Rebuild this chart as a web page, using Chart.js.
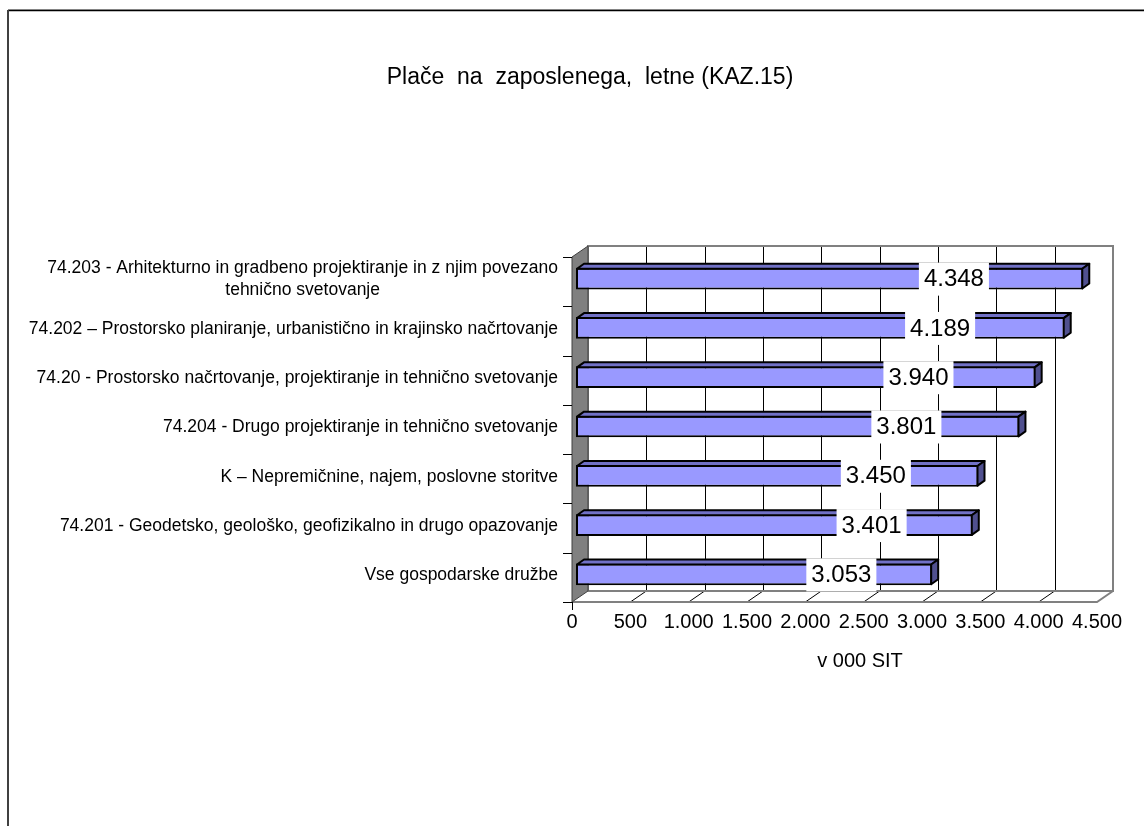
<!DOCTYPE html>
<html>
<head>
<meta charset="utf-8">
<script src="https://cdn.jsdelivr.net/npm/chart.js@4/dist/chart.umd.min.js"></script>
<style>
    html, body { margin: 0; padding: 0; background: #fff; }
    #wrap { width: 1144px; height: 826px; }
</style>
</head>
<body>
<div id="wrap"><canvas id="chart" width="1144" height="826"></canvas></div>
<script>
var chartTitle = "Plače  na  zaposlenega,  letne (KAZ.15)";
var axisTitle = "v 000 SIT";
var categories = [
    ["74.203 - Arhitekturno in gradbeno projektiranje in z njim povezano", "tehnično svetovanje"],
    "74.202 – Prostorsko planiranje, urbanistično in krajinsko načrtovanje",
    "74.20 - Prostorsko načrtovanje, projektiranje in tehnično svetovanje",
    "74.204 - Drugo projektiranje in tehnično svetovanje",
    "K – Nepremičnine, najem, poslovne storitve",
    "74.201 - Geodetsko, geološko, geofizikalno in drugo opazovanje",
    "Vse gospodarske družbe"
];
var values = [4348, 4189, 3940, 3801, 3450, 3401, 3053];
var tickValues = [0, 500, 1000, 1500, 2000, 2500, 3000, 3500, 4000, 4500];

var FONT = '"Liberation Sans", Arial, sans-serif';

// 3d look: front plane -> back wall, front plane -> bar faces, bar depth
var depthX = 16, depthY = -11;
var barOffX = 4, barOffY = -3;
var barDX = 7, barDY = -5;

function fmt(v) {
    return String(v).replace(/\B(?=(\d{3})+(?!\d))/g, ".");
}

function poly(ctx, pts, fill, stroke, lw) {
    ctx.beginPath();
    ctx.moveTo(pts[0][0], pts[0][1]);
    for (var i = 1; i < pts.length; i++) ctx.lineTo(pts[i][0], pts[i][1]);
    ctx.closePath();
    if (fill) { ctx.fillStyle = fill; ctx.fill(); }
    if (stroke) { ctx.strokeStyle = stroke; ctx.lineWidth = lw || 1; ctx.stroke(); }
}

var plot3d = {
    id: 'plot3d',
    beforeDraw: function(chart) {
        var ctx = chart.ctx;
        ctx.save();
        ctx.fillStyle = '#fff';
        ctx.fillRect(0, 0, chart.width, chart.height);
        // outer frame (cut off on right and bottom)
        ctx.strokeStyle = '#b0b0b0';
        ctx.lineWidth = 1;
        ctx.beginPath(); ctx.moveTo(8, 9.5); ctx.lineTo(chart.width, 9.5); ctx.stroke();
        ctx.strokeStyle = '#000';
        ctx.lineWidth = 1.5;
        ctx.beginPath(); ctx.moveTo(8, 10.5); ctx.lineTo(chart.width, 10.5); ctx.stroke();
        ctx.strokeStyle = '#404040';
        ctx.lineWidth = 2;
        ctx.beginPath(); ctx.moveTo(8, 10); ctx.lineTo(8, chart.height); ctx.stroke();
        ctx.restore();
    },
    beforeDatasetsDraw: function(chart) {
        var ctx = chart.ctx, a = chart.chartArea, xs = chart.scales.x;
        var L = a.left, R = a.right, T = a.top, B = a.bottom;
        ctx.save();
        // back wall
        poly(ctx, [[L + depthX, T + depthY], [R + depthX, T + depthY], [R + depthX, B + depthY], [L + depthX, B + depthY]], '#fff');
        ctx.strokeStyle = '#000';
        ctx.lineWidth = 1;
        for (var i = 1; i < tickValues.length - 1; i++) {
            var gx = Math.round(xs.getPixelForValue(tickValues[i]) + depthX) + 0.5;
            ctx.beginPath(); ctx.moveTo(gx, T + depthY); ctx.lineTo(gx, B + depthY); ctx.stroke();
        }
        // floor
        poly(ctx, [[L, B], [L + depthX, B + depthY], [R + depthX, B + depthY], [R, B]], '#fff');
        ctx.strokeStyle = '#000';
        for (i = 1; i < tickValues.length - 1; i++) {
            var fx = xs.getPixelForValue(tickValues[i]);
            ctx.beginPath(); ctx.moveTo(fx, B); ctx.lineTo(fx + depthX, B + depthY); ctx.stroke();
        }
        ctx.strokeStyle = '#808080';
        ctx.lineWidth = 2;
        ctx.beginPath();
        ctx.moveTo(L + depthX, B + depthY);
        ctx.lineTo(L + depthX, T + depthY);
        ctx.lineTo(R + depthX, T + depthY);
        ctx.lineTo(R + depthX, B + depthY);
        ctx.lineTo(L + depthX, B + depthY);
        ctx.moveTo(R + depthX, B + depthY);
        ctx.lineTo(R, B);
        ctx.lineTo(L, B);
        ctx.stroke();
        // left side wall
        poly(ctx, [[L, T], [L + depthX, T + depthY], [L + depthX, B + depthY], [L, B]], '#808080', '#404040', 1);
        ctx.restore();

        ctx.save();
        ctx.translate(barOffX, barOffY);
    },
    afterDatasetsDraw: function(chart) {
        var ctx = chart.ctx, meta = chart.getDatasetMeta(0), xs = chart.scales.x;
        meta.data.forEach(function(bar) {
            var x0 = bar.base + 1, x1 = bar.x - 1;
            var t = bar.y - bar.height / 2 + 1, b = bar.y + bar.height / 2 - 1;
            ctx.lineJoin = 'round';
            poly(ctx, [[x0, t], [x0 + barDX, t + barDY], [x1 + barDX, t + barDY], [x1, t]], '#7171c6', '#000', 2);
            poly(ctx, [[x1, t], [x1 + barDX, t + barDY], [x1 + barDX, b + barDY], [x1, b]], '#50508f', '#000', 2);
        });
        ctx.restore();

        // value labels on white boxes
        ctx.save();
        ctx.font = '24px ' + FONT;
        ctx.textAlign = 'center';
        ctx.textBaseline = 'middle';
        meta.data.forEach(function(bar, i) {
            var txt = fmt(values[i]);
            var cx = xs.getPixelForValue(values[i] * 0.745) + barOffX;
            var cy = bar.y + barOffY;
            var w = ctx.measureText(txt).width + 10;
            ctx.fillStyle = '#fff';
            ctx.fillRect(cx - w / 2, cy - 16, w, 33);
            ctx.fillStyle = '#000';
            ctx.fillText(txt, cx, cy + 1);
        });
        ctx.restore();
    },
    afterDraw: function(chart) {
        var ctx = chart.ctx, a = chart.chartArea, ys = chart.scales.y;
        ctx.save();
        // category tick marks
        ctx.strokeStyle = '#000';
        ctx.lineWidth = 1;
        for (var i = 0; i <= categories.length; i++) {
            var ty = Math.round(ys.getPixelForValue(i - 0.5)) + 0.5;
            ctx.beginPath(); ctx.moveTo(a.left - 9, ty); ctx.lineTo(a.left, ty); ctx.stroke();
        }
        ctx.beginPath(); ctx.moveTo(a.left + 0.5, a.bottom); ctx.lineTo(a.left + 0.5, a.bottom + 8); ctx.stroke();
        // category labels
        ctx.fillStyle = '#000';
        ctx.font = '17.5px ' + FONT;
        ctx.textBaseline = 'middle';
        var rx = a.left - 14;
        categories.forEach(function(lab, i) {
            var cy = ys.getPixelForValue(i) - 2;
            if (Array.isArray(lab)) {
                var w = ctx.measureText(lab[0]).width;
                var lh = 22;
                var y0 = cy - lh * (lab.length - 1) / 2;
                ctx.textAlign = 'right';
                ctx.fillText(lab[0], rx, y0);
                ctx.textAlign = 'center';
                for (var k = 1; k < lab.length; k++) ctx.fillText(lab[k], rx - w / 2, y0 + k * lh);
            } else {
                ctx.textAlign = 'right';
                ctx.fillText(lab, rx, cy);
            }
        });
        // titles
        ctx.textAlign = 'center';
        ctx.font = '23px ' + FONT;
        ctx.fillText(chartTitle, 590, 78);
        ctx.font = '20px ' + FONT;
        ctx.fillText(axisTitle, 860, 661);
        ctx.restore();
    }
};

var ctx = document.getElementById('chart').getContext('2d');
var myChart = new Chart(ctx, {
    type: 'bar',
    data: {
        labels: categories,
        datasets: [{
            data: values,
            backgroundColor: '#9999ff',
            borderColor: '#000',
            borderWidth: 2,
            borderSkipped: false,
            barPercentage: 0.44,
            categoryPercentage: 1.0,
            clip: false
        }]
    },
    options: {
        indexAxis: 'y',
        responsive: false,
        animation: false,
        devicePixelRatio: 1,
        layout: {
            padding: { left: 8, right: 47, top: 257, bottom: 164 }
        },
        plugins: {
            legend: { display: false },
            title: { display: false },
            tooltip: { enabled: false }
        },
        scales: {
            x: {
                min: 0,
                max: 4500,
                afterBuildTicks: function(scale) {
                    scale.ticks = tickValues.map(function(v) { return { value: v }; });
                },
                afterFit: function(scale) { scale.height = 60; },
                grid: { display: false, drawTicks: false },
                border: { display: false },
                ticks: {
                    padding: 8,
                    color: '#000',
                    maxRotation: 0,
                    autoSkip: false,
                    font: { family: FONT, size: 20 },
                    callback: function(v) { return fmt(v); }
                }
            },
            y: {
                afterFit: function(scale) { scale.width = 564; },
                grid: { display: false },
                border: { display: false },
                ticks: { display: false }
            }
        }
    },
    plugins: [plot3d]
});
</script>
</body>
</html>
